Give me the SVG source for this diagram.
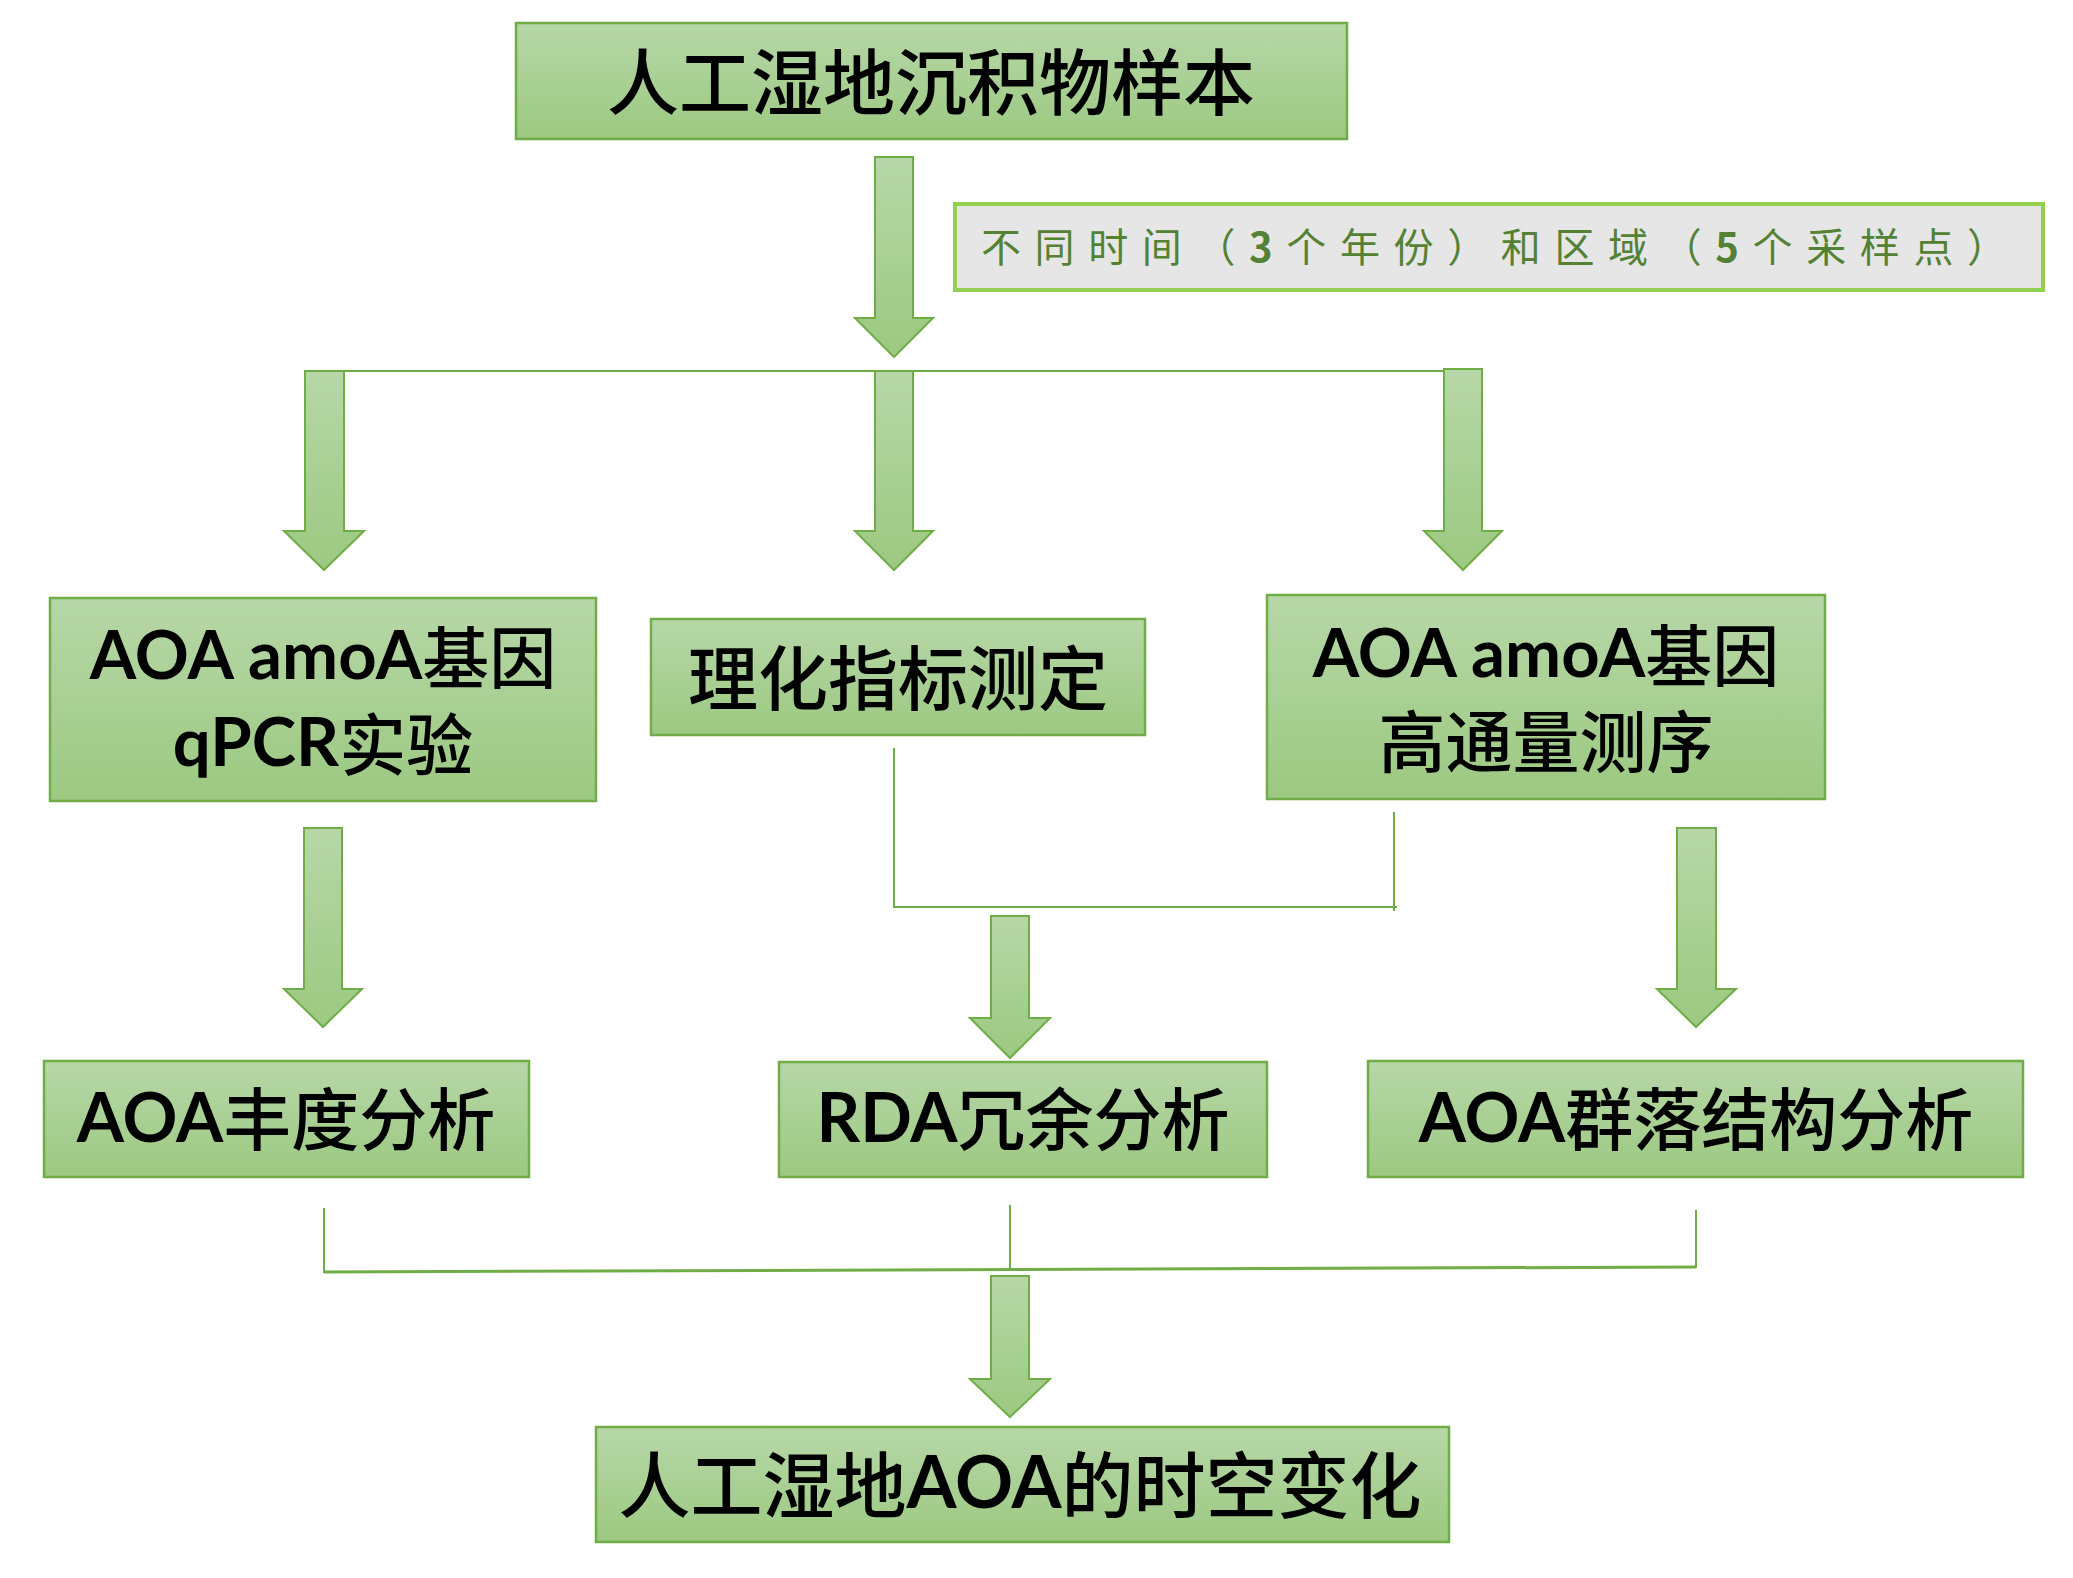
<svg xmlns="http://www.w3.org/2000/svg" width="2073" height="1578" viewBox="0 0 2073 1578">
<defs>
<linearGradient id="gb" x1="0" y1="0" x2="0" y2="1">
<stop offset="0" stop-color="#b7d7a8"/>
<stop offset="1" stop-color="#9cc981"/>
</linearGradient>
<style>
.box{fill:url(#gb);stroke:#70ad47;stroke-width:2.5}
.arr{fill:url(#gb);stroke:#70ad47;stroke-width:2}
.ln{fill:none;stroke:#70ad47;stroke-width:2}
.t{font-family:"Noto Sans CJK SC","Noto Sans CJK JP",sans-serif;font-weight:500;fill:#000;text-anchor:middle;dominant-baseline:central}
.l{font-family:Lato,"Open Sans","Noto Sans CJK SC",sans-serif;font-weight:700}
.lab{font-family:"Noto Sans CJK SC",sans-serif;font-size:40px;fill:#548235;dominant-baseline:central}
</style>
</defs>
<rect width="2073" height="1578" fill="#fff"/>
<g id="connectors">
<path class="arr" d="M875,157H913V318H933L894,357L855,318H875Z"/>
<line class="ln" x1="305" y1="371" x2="1482" y2="371"/>
<path class="arr" d="M305,371H344V531H364L324,570L284,531H305Z"/>
<path class="arr" d="M875,371H913V531H933L894,570L855,531H875Z"/>
<path class="arr" d="M1444,369H1482V531H1502L1463,570L1424,531H1444Z"/>
<path class="arr" d="M304,828H342V989H362L323,1027L284,989H304Z"/>
<path class="arr" d="M1677,828H1716V989H1736L1696,1027L1657,989H1677Z"/>
<polyline class="ln" points="894,748 894,907 1397,907"/>
<line class="ln" x1="1394" y1="812" x2="1394" y2="911"/>
<path class="arr" d="M991,916H1029V1018H1050L1010,1058L970,1018H991Z"/>
<line class="ln" x1="324" y1="1208" x2="324" y2="1273"/>
<line class="ln" x1="1010" y1="1205" x2="1010" y2="1270"/>
<line class="ln" x1="1696" y1="1210" x2="1696" y2="1268"/>
<line class="ln" style="stroke-width:3" x1="324" y1="1272" x2="1696" y2="1267"/>
<path class="arr" d="M991,1276H1029V1379H1050L1010,1417L970,1379H991Z"/>
</g>
<g id="n-top">
<rect class="box" x="516" y="23" width="831" height="116"/>
<text class="t" x="931" y="77" font-size="72">人工湿地沉积物样本</text>
</g>
<g id="n-label">
<rect x="955" y="204" width="1088" height="86" fill="#e6e6e6" stroke="#92d050" stroke-width="4"/>
<text class="lab" x="981" y="245" textLength="1026" lengthAdjust="spacing">不同时间（<tspan font-weight="700">3</tspan>个年份）和区域（<tspan font-weight="700">5</tspan>个采样点）</text>
</g>
<g id="n-qpcr">
<rect class="box" x="50" y="598" width="546" height="203"/>
<text class="t" x="323" y="653" font-size="67"><tspan class="l">AOA amoA</tspan>基因</text>
<text class="t" x="323" y="740" font-size="67"><tspan class="l">qPCR</tspan>实验</text>
</g>
<g id="n-phys">
<rect class="box" x="651" y="619" width="494" height="116"/>
<text class="t" x="898" y="674" font-size="70">理化指标测定</text>
</g>
<g id="n-seq">
<rect class="box" x="1267" y="595" width="558" height="204"/>
<text class="t" x="1546" y="651" font-size="67"><tspan class="l">AOA amoA</tspan>基因</text>
<text class="t" x="1546" y="737" font-size="67">高通量测序</text>
</g>
<g id="n-abund">
<rect class="box" x="44" y="1061" width="485" height="116"/>
<text class="t" x="286" y="1115" font-size="68"><tspan class="l">AOA</tspan>丰度分析</text>
</g>
<g id="n-rda">
<rect class="box" x="779" y="1062" width="488" height="115"/>
<text class="t" x="1023" y="1115" font-size="68"><tspan class="l">RDA</tspan>冗余分析</text>
</g>
<g id="n-comm">
<rect class="box" x="1368" y="1061" width="655" height="116"/>
<text class="t" x="1696" y="1115" font-size="68"><tspan class="l">AOA</tspan>群落结构分析</text>
</g>
<g id="n-final">
<rect class="box" x="596" y="1427" width="853" height="115"/>
<text class="t" x="1020" y="1480" font-size="72">人工湿地<tspan class="l">AOA</tspan>的时空变化</text>
</g>
</svg>
